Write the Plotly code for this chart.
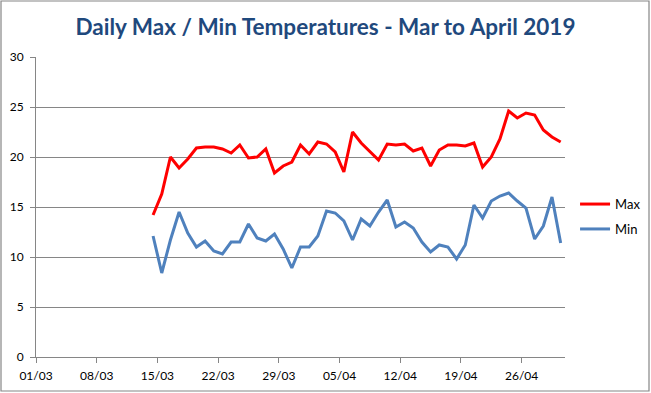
import plotly.graph_objects as go
import pandas as pd

# Data (daily values 14/03/2019 - 30/04/2019)
dates = pd.date_range("2019-03-14", "2019-04-30", freq="D")
max_temp = [14.2, 16.3, 20.0, 18.9, 19.8, 20.9, 21.0, 21.0, 20.8, 20.4,
            21.2, 19.9, 20.0, 20.8, 18.4, 19.1, 19.5, 21.2, 20.3, 21.5,
            21.3, 20.5, 18.5, 22.5, 21.4, 20.6, 19.7, 21.3, 21.2, 21.3,
            20.6, 20.9, 19.1, 20.7, 21.2, 21.2, 21.1, 21.4, 19.0, 20.0,
            21.8, 24.6, 23.9, 24.4, 24.2, 22.7, 22.0, 21.5]
min_temp = [12.1, 8.4, 11.7, 14.5, 12.4, 11.0, 11.6, 10.6, 10.3, 11.5,
            11.5, 13.3, 11.9, 11.6, 12.3, 10.8, 8.9, 11.0, 11.0, 12.1,
            14.6, 14.4, 13.6, 11.7, 13.8, 13.1, 14.5, 15.7, 13.0, 13.5,
            12.9, 11.5, 10.5, 11.2, 11.0, 9.8, 11.2, 15.2, 13.9, 15.6,
            16.1, 16.4, 15.6, 14.9, 11.8, 13.1, 16.0, 11.4]
tick_dates = pd.date_range("2019-03-01", "2019-04-26", freq="7D")

GRID = "#868686"
FONT = "Lato, 'Liberation Sans', Arial, sans-serif"

fig = go.Figure()
fig.add_trace(go.Scatter(x=dates, y=max_temp, name="Max", mode="lines",
                         legendgroup="max",
                         line=dict(color="#FF0000", width=3),
                         xperiod=86400000, xperiodalignment="middle"))
fig.add_trace(go.Scatter(x=dates, y=min_temp, name="Min", mode="lines",
                         legendgroup="min",
                         line=dict(color="#4F81BD", width=3),
                         xperiod=86400000, xperiodalignment="middle"))

fig.update_layout(
    width=651, height=393,
    margin=dict(l=36, r=86, t=57, b=36, autoexpand=False),
    paper_bgcolor="white", plot_bgcolor="white",
    font=dict(family=FONT, size=12, color="#000000"),
    title=dict(text="<b>Daily Max / Min Temperatures - Mar to April 2019</b>",
               x=0.5, xanchor="center", y=0.93, yanchor="middle",
               font=dict(family=FONT, size=22.5, color="#1F497D")),
    showlegend=True,
    legend=dict(x=1.019, xanchor="left", y=0.468, yanchor="middle",
                font=dict(size=13), bgcolor="rgba(0,0,0,0)",
                tracegroupgap=5),
    xaxis=dict(type="date", range=["2019-03-01", "2019-05-01"],
               tickvals=tick_dates, tickformat="%d/%m",
               showgrid=False, showline=True, linecolor=GRID, linewidth=1,
               ticks="outside", ticklen=5, tickcolor=GRID, zeroline=False,
               ticklabelstandoff=3),
    yaxis=dict(range=[0, 30], dtick=5, showgrid=True, gridcolor=GRID,
               gridwidth=1, showline=True, linecolor=GRID, linewidth=1,
               ticks="outside", ticklen=5, tickcolor=GRID, zeroline=False,
               ticklabelstandoff=4),
    shapes=[dict(type="rect", xref="paper", yref="paper",
                 x0=-35 / 529, x1=613 / 529, y0=-34 / 300, y1=356 / 300,
                 line=dict(color=GRID, width=1.2), layer="below")],
)

fig.write_html("out.html", config={"displayModeBar": False},
               post_script="document.body.style.margin='0';document.body.style.overflow='hidden';")
